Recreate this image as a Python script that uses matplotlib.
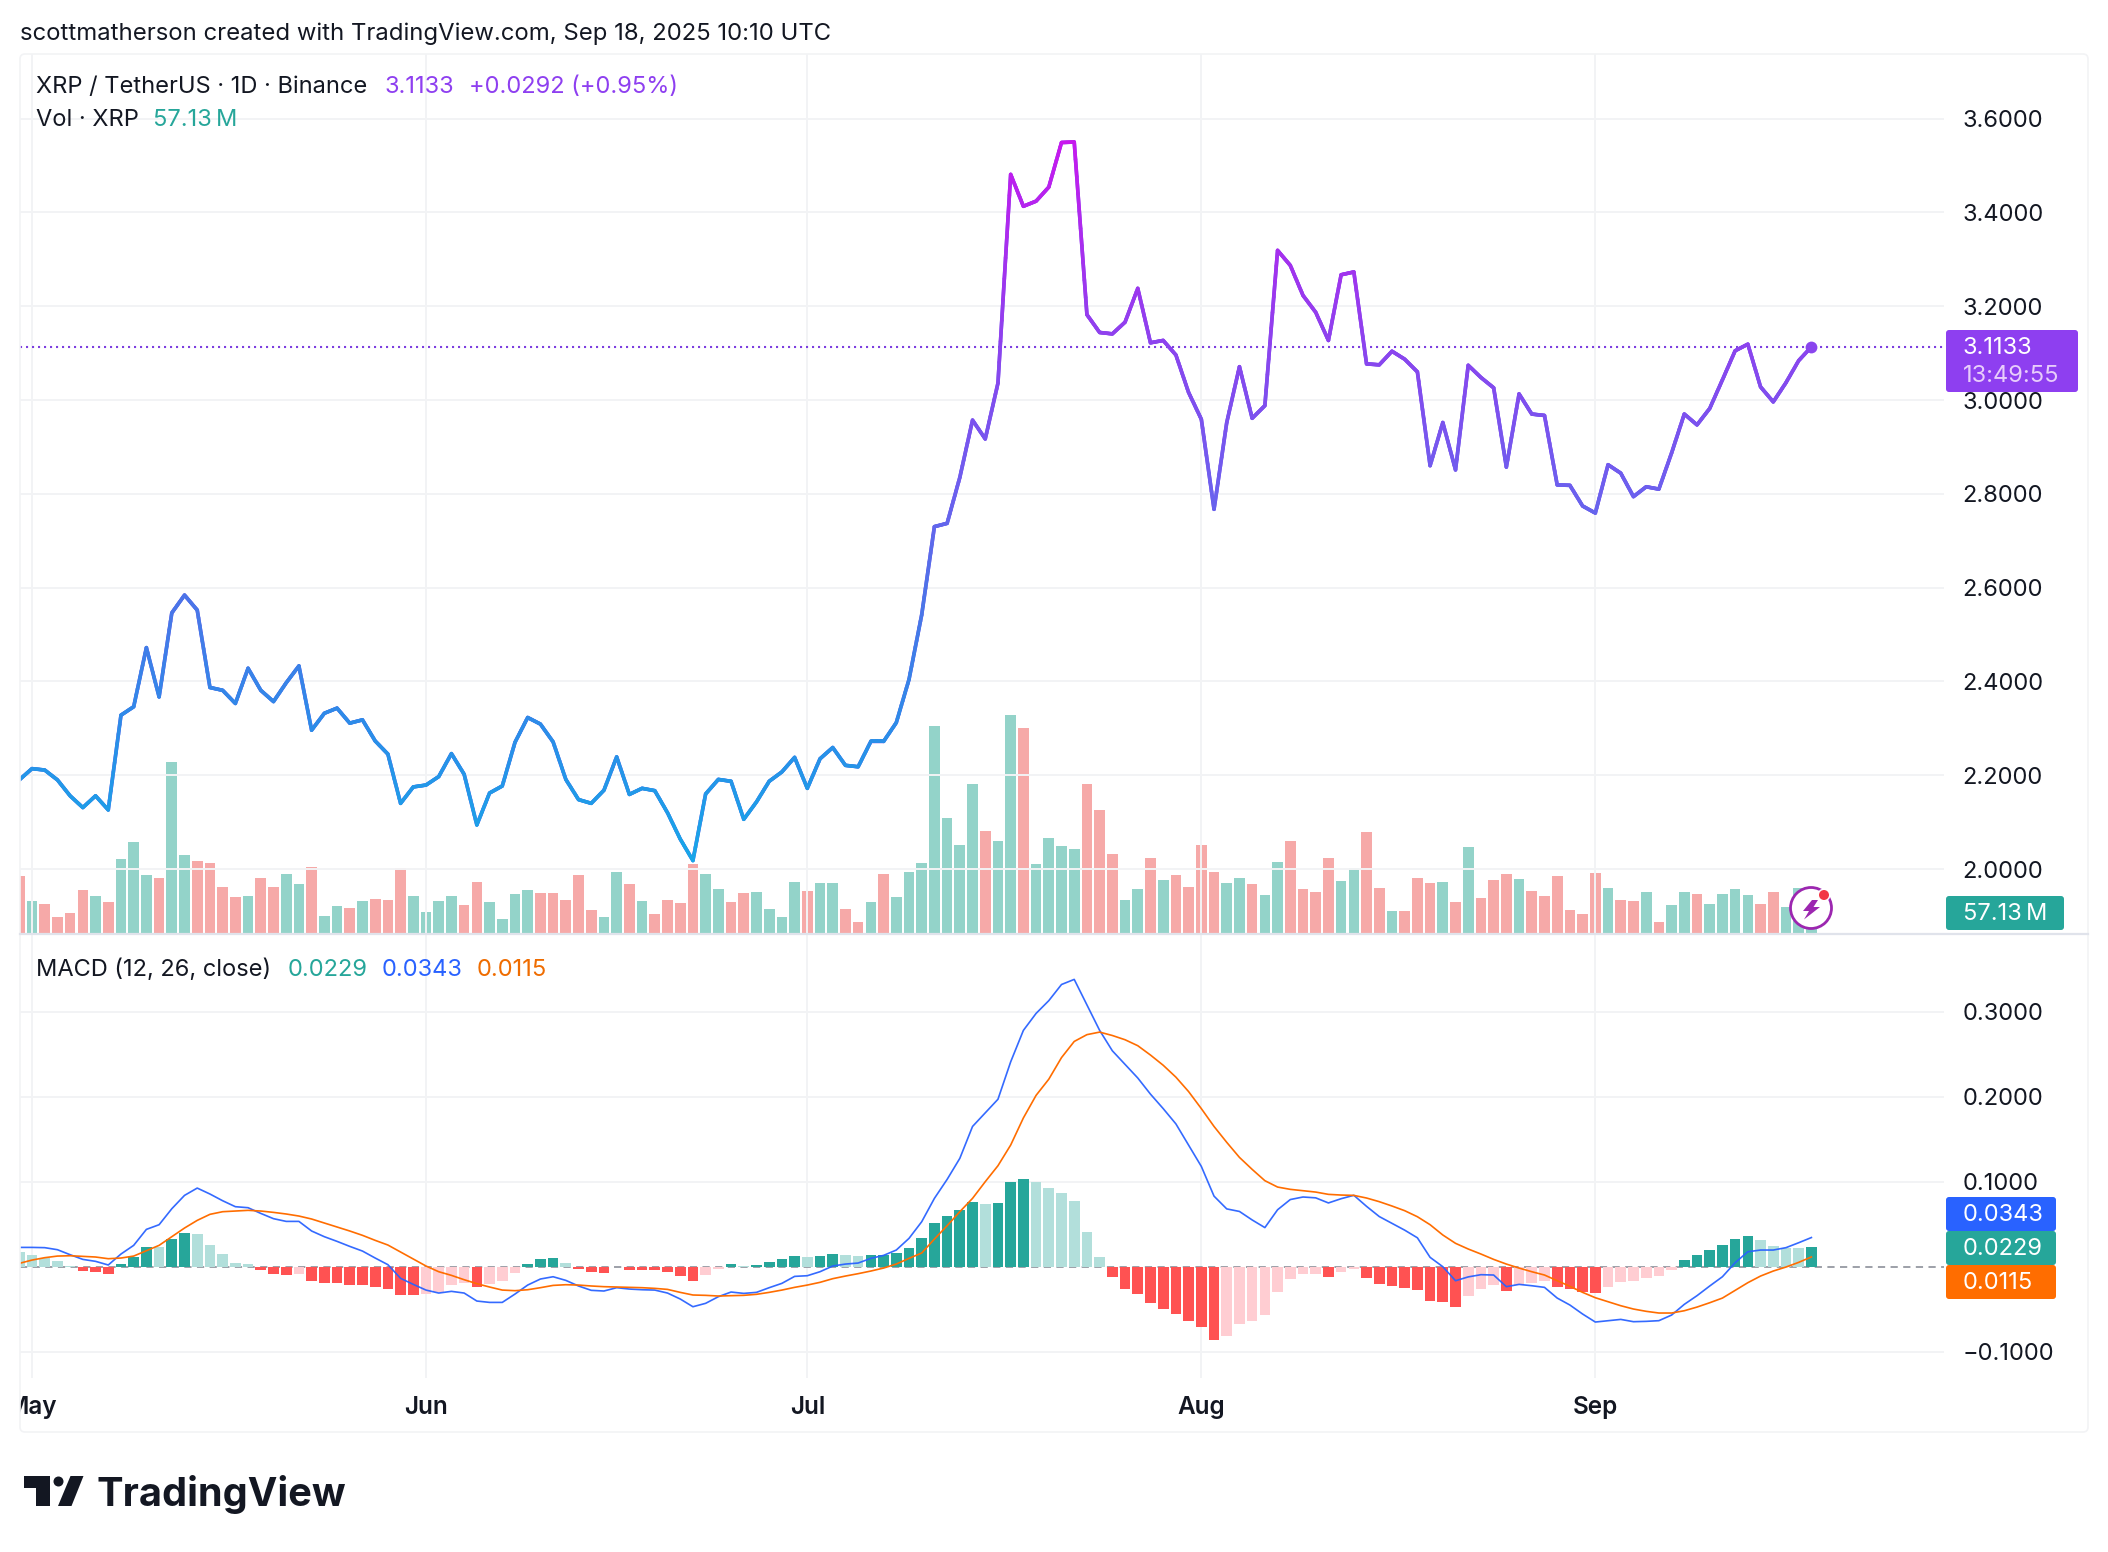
import numpy as np
import matplotlib
matplotlib.use("Agg")
import matplotlib.pyplot as plt
from matplotlib.collections import LineCollection
from matplotlib.colors import LinearSegmentedColormap
from matplotlib.patches import FancyBboxPatch, Circle, Polygon, Rectangle
from matplotlib.transforms import Bbox

plt.rcParams['font.family'] = ['Inter', 'DejaVu Sans']

# ---------- data: day 0 is 1 May 2025, the first entry is 30 April ----------
price = [2.19,2.214,2.211,2.19,2.156,2.131,2.156,2.126,2.328,2.346,2.472,2.367,2.546,2.584,2.552,2.387,2.381,2.353,2.428,2.381,
 2.357,2.397,2.433,2.296,2.332,2.343,2.311,2.318,2.273,2.245,2.14,2.175,2.179,2.197,2.246,2.202,2.094,2.162,2.177,2.27,
 2.323,2.309,2.271,2.191,2.148,2.14,2.168,2.239,2.159,2.172,2.167,2.12,2.064,2.018,
 2.16,2.191,2.187,2.106,2.143,2.187,2.207,2.238,2.172,2.235,2.259,2.221,2.218,2.272,2.272,2.312,2.404,2.542,
 2.73,2.737,2.835,2.957,2.917,3.036,3.481,3.413,3.424,3.454,3.549,3.55,3.182,3.144,3.141,3.166,3.238,3.122,3.127,3.096,
 3.016,2.959,2.767,2.952,3.071,2.961,2.988,3.319,3.287,3.223,3.187,3.127,3.267,3.273,3.077,3.075,3.104,
 3.087,3.06,2.86,2.952,2.851,3.074,3.048,3.026,2.857,3.013,2.97,2.967,2.819,2.818,2.774,2.759,2.862,2.844,2.794,2.815,
 2.81,2.887,2.97,2.947,2.982,3.043,3.105,3.119,3.028,2.996,3.037,3.084,3.1133]

volume = [223,127,115,65,81,169,146,123,289,354,227,216,662,304,281,273,181,142,146,216,181,231,192,258,69,108,100,127,135,131,
 254,146,85,127,146,112,200,123,58,154,169,158,158,131,227,92,65,239,192,127,77,131,119,269,
 231,173,123,158,162,96,65,200,166,196,196,96,46,123,231,142,239,273,801,446,343,577,396,358,843,793,269,370,339,327,
 577,477,308,131,173,293,208,227,181,343,239,196,216,192,150,277,358,173,162,293,204,254,393,177,89,
 89,216,196,200,123,335,139,208,231,212,166,146,223,92,77,235,177,131,127,162,46,112,162,154,115,154,173,150,115,162,104,177,57.13]
volume_dir = ("RGRRRRGRGGG" "RGGRRRRGRR" "GGRGGRGRRR" "GGGGRRGGGG" "RRRRRGGRGR" "RRRGGRRGGG" "GRGGRRGRGG"
              "GGGGGRGGRG" "GGGRRRGGRG" "RRRRGGRGGR" "RRRGGRRGRR" "RGRGRRRGRR" "RRRRGRRGRG" "GRGGGGRRGGG")

hist = [.0173,.0137,.0102,.0067,.0012,-.0051,-.0063,-.0086,.0031,.0114,.0231,.0235,.0325,.0396,.0384,.0255,.0149,.0043,.0031,-.0039,
 -.0086,-.0098,-.0086,-.0169,-.0192,-.0192,-.0216,-.0216,-.0239,-.0263,-.0333,-.0333,-.0322,-.0298,-.0216,-.0192,-.0239,-.0204,-.0169,-.0075,
 .0031,.009,.0102,.0043,-.0027,-.0063,-.0075,-.0004,-.0039,-.0039,-.0039,-.0063,-.011,-.0169,
 -.0098,-.0027,.0031,.0008,.002,.0055,.009,.0125,.0114,.0125,.0149,.0137,.0125,.0137,.0137,.0161,.022,.0337,.0514,.0596,.0667,.0761,.0737,.0749,
 .0996,.1031,.0996,.0925,.0867,.0773,.0408,.0114,-.0122,-.0263,-.0322,-.0427,-.0498,-.0557,-.0639,-.071,-.0863,-.0816,-.0675,-.0639,-.0569,-.0298,
 -.0145,-.0086,-.0086,-.0122,-.0063,-.0027,-.0133,-.0204,-.0227,
 -.0251,-.0275,-.0404,-.0416,-.0475,-.0345,-.0263,-.0216,-.0286,-.0216,-.0192,-.0169,-.0239,-.0263,-.0298,-.031,-.0239,-.018,-.0169,-.0133,-.011,-.0039,
 .0078,.0137,.0196,.0255,.0325,.0361,.0314,.0243,.022,.022,.0229]
hist_shade = ("LLLLLDDDDDD" "LDDLLLLLDD" "DLDDDDDDDD" "DLLLLDLLLD" "DDLDDDLDDD" "DDDLLDLDDD" "DLDDLLDDDD"
              "DDDDDLDDDL" "LLLLLDDDDD" "DDDDLLLLLL" "LLDLLDDDDD" "DDDLLLDLLL" "DDDDLLLLLL" "DDDDDDLLLLD")

macd_line = [.0227,.0227,.0224,.020,.0141,.0086,.0063,.002,.0149,.0251,.0439,.0494,.0682,.0839,.0925,.0855,.0776,.0706,.0694,.0627,
 .0565,.0533,.0533,.042,.0353,.0298,.0239,.0184,.0102,.0024,-.0137,-.0208,-.0275,-.031,-.029,-.031,-.0404,-.042,-.042,-.0322,
 -.0216,-.0145,-.0118,-.0161,-.0227,-.0278,-.0286,-.0247,-.0263,-.0271,-.0275,-.031,-.038,-.0471,
 -.0431,-.0353,-.0298,-.0314,-.0302,-.0247,-.0196,-.0114,-.0106,-.0059,.0008,.0031,.0043,.0098,.0133,.0196,.0333,.0529,.0804,.1027,.1275,
 .165,.181,.197,.241,.278,.298,.313,.332,.338,.308,.278,.254,.238,.222,.203,.186,
 .168,.143,.118,.083,.068,.065,.055,.046,.067,.079,.082,.081,.075,.08,.084,.071,.059,.051,
 .043,.034,.011,0.0,-.0165,-.012,-.0094,-.0098,-.0235,-.0208,-.0224,-.0243,-.0369,-.0451,-.0557,-.0651,-.0635,-.062,-.0647,-.0643,-.0635,-.0569,-.0443,-.0341,-.0227,-.0118,.0047,.0176,.0196,.0196,.0224,.0282,.0343]

signal_line = [.0039,.0078,.0106,.0125,.0129,.0122,.0114,.0094,.0102,.0125,.0188,.0251,.0353,.0455,.0545,.0616,.0647,.0655,.0663,.0655,
 .0639,.062,.0596,.0561,.0514,.0467,.042,.0369,.031,.0255,.0173,.009,.0008,-.0059,-.0102,-.0153,-.02,-.0239,-.0275,-.0282,
 -.0271,-.0247,-.022,-.0212,-.0216,-.0227,-.0235,-.0239,-.0243,-.0247,-.0255,-.0267,-.0302,-.0333,
 -.0337,-.0345,-.0341,-.0337,-.0325,-.0302,-.0275,-.0243,-.0216,-.0184,-.0141,-.011,-.0082,-.0051,-.0016,.0031,.0098,.0161,.0325,.0482,.0647,.0804,.1,.1188,.1431,
 .175,.2016,.2206,.246,.265,.273,.276,.272,.267,.26,.249,.237,.223,.206,.186,.165,
 .1463,.1286,.1145,.1012,.0937,.091,.0894,.0878,.0851,.0843,.0839,.0808,.0765,.0714,
 .0659,.0588,.0494,.0373,.0275,.0208,.0149,.0086,.0031,-.0016,-.0059,-.0098,-.0165,-.0231,-.0302,-.0365,-.0412,-.0459,-.0498,-.0525,-.0545,-.0545,-.0518,-.0475,-.0424,-.0369,-.0278,-.0188,-.011,-.0051,-.0004,.0051,.0115]

month_labels = ["May", "Jun", "Jul", "Aug", "Sep"]
month_days = [0, 31, 61, 92, 123]
price_ticks = [2.0, 2.2, 2.4, 2.6, 2.8, 3.0, 3.2, 3.4, 3.6]
macd_ticks = [-0.1, 0.1, 0.2, 0.3]
last_price = 3.1133

# ---------- layout ----------
W, H = 2108, 1552
fig = plt.figure(figsize=(W/100, H/100), dpi=100, facecolor="white")
L, R, T, SEP, B = 20, 1944, 54, 934, 1378
def pane(top, bot, z):
    a = fig.add_axes([L/W, 1-bot/H, (R-L)/W, (bot-top)/H], zorder=z)
    a.patch.set_visible(False)
    for s in a.spines.values():
        s.set_visible(False)
    return a

days = np.arange(-1, len(price)-1)
XL = (L-32)/12.71; XR = (R-32)/12.71
GRID = "#f2f3f5"; TXT = "#131722"; FS = 17

ax_vol = pane(T, SEP, 1)
ax_p = pane(T, SEP, 2)
ax_m = pane(SEP, B, 2)

# grid in its own layer below the marks
for a in (ax_p, ax_m):
    a.set_xlim(XL, XR)
    a.set_xticks(month_days)
    a.grid(True, color=GRID, lw=1.4)
    a.set_axisbelow(True)
    a.yaxis.tick_right()
    a.tick_params(axis="both", length=0)
    a.tick_params(axis="y", pad=13.5, labelsize=FS, labelcolor=TXT)

# volume
ax_vol.set_xlim(XL, XR)
ax_vol.set_ylim(0, (SEP-T)*3.85)
ax_vol.axis("off")
ax_vol.bar(days, volume, width=0.84, lw=0,
           color=["#93d3c9" if d == "G" else "#f6a9a8" for d in volume_dir])

# price
ax_p.set_ylim(2+(869-SEP)/469, 2+(869-T)/469)
ax_p.set_yticks(price_ticks)
ax_p.set_yticklabels([f"{v:.4f}" for v in price_ticks])
ax_p.tick_params(axis="x", labelbottom=False)
ax_p.axhline(last_price, color="#7d3fe0", lw=1.5, ls=(0, (1, 1.88)), zorder=2)
ax_p.plot(days, price, color="#7a50ee", lw=2.6, solid_joinstyle="round", zorder=3)
stops = [(0.0,"#16a8e8"),(0.19,"#2b8de8"),(0.39,"#4f72e8"),(0.52,"#6c60ee"),(0.71,"#8a45ee"),(0.84,"#a530ee"),(1.0,"#c818ee")]
cmap = LinearSegmentedColormap.from_list("p", stops)
# each stretch is cut only so the colour can change along it
segs, vals = [], []
for k in range(len(price)-1):
    xs = np.linspace(days[k], days[k+1], 11)
    ys = np.linspace(price[k], price[k+1], 11)
    for j in range(10):
        segs.append([(xs[j], ys[j]), (xs[j+1], ys[j+1])])
        vals.append((ys[j]+ys[j+1])/2)
lc = LineCollection(segs, cmap=cmap, norm=plt.Normalize(2.0, 3.55), lw=2.6, capstyle="round", zorder=4)
lc.set_array(np.array(vals))
ax_p.add_collection(lc)
ax_p.plot(days[-1], price[-1], "o", ms=8.5, mfc="#8a45ee", mec="none", zorder=5)

# MACD
ax_m.set_ylim((1266.7-B)/850, (1266.7-SEP)/850)
ax_m.set_yticks(macd_ticks)
ax_m.set_yticklabels(["\u22120.1000" if v < 0 else f"{v:.4f}" for v in macd_ticks])
colors = []
for v, s in zip(hist, hist_shade):
    if v >= 0:
        colors.append("#26a69a" if s == "D" else "#b2dfdb")
    else:
        colors.append("#ff5252" if s == "D" else "#ffcdd2")
ax_m.axhline(0, color="#9598a1", lw=1.3, ls=(0, (4, 3)), zorder=1.5)
ax_m.bar(days, hist, width=0.84, lw=0, color=colors, zorder=2)
ax_m.plot(days, macd_line, color="#2962ff", lw=1.2, alpha=.95, zorder=3)
ax_m.plot(days, signal_line, color="#ff6d00", lw=1.2, zorder=4)
ax_m.set_xticklabels(month_labels)
ax_m.tick_params(axis="x", pad=13, labelsize=17.5, labelcolor=TXT)
clip = Bbox([[L, 0], [R, H]])
for t in ax_m.get_xticklabels():
    t.set_fontweight(600)
    t.set_clip_box(clip)
    t.set_clip_on(True)

# ---------- overlay in pixel coordinates ----------
ov = fig.add_axes([0, 0, 1, 1], zorder=10)
ov.set_xlim(0, W); ov.set_ylim(H, 0); ov.axis("off"); ov.patch.set_visible(False)

ov.add_patch(FancyBboxPatch((L, T), 2088-L, 1432-T, boxstyle="round,pad=0,rounding_size=5",
                            fc="none", ec=GRID, lw=1.2))
ov.plot([L, 2088], [SEP, SEP], color="#e0e3eb", lw=1.6)

def label(x, y, s, color=TXT, size=FS, **kw):
    ov.text(x, y, s, color=color, fontsize=size, va="center", ha="left", **kw)

label(20, 33.5, "scottmatherson created with TradingView.com, Sep 18, 2025 10:10 UTC", size=17.2)
label(36, 87, "XRP / TetherUS \u00b7 1D \u00b7 Binance")
label(384, 87, "3.1133", "#8e3ff0")
label(469, 87, "+0.0292 (+0.95%)", "#8e3ff0")
label(36, 120, "Vol \u00b7 XRP")
label(153, 120, "57.13\u2009M", "#26a69a")
label(36, 970, "MACD (12, 26, close)")
label(288, 970, "0.0229", "#26a69a")
label(382, 970, "0.0343", "#2962ff")
label(477, 970, "0.0115", "#ef6c00")

def badge(x0, x1, y0, y1, color):
    ov.add_patch(FancyBboxPatch((x0, y0), x1-x0, y1-y0, boxstyle="round,pad=0,rounding_size=3",
                                fc=color, ec="none"))
badge(1946, 2078, 330, 392, "#8e3ff0")
label(1963, 347.5, "3.1133", "white")
label(1963, 376, "13:49:55", "#e8cdfb")
badge(1946, 2064, 896, 930, "#26a69a")
label(1963, 914.5, "57.13\u2009M", "white")
badge(1946, 2056, 1197, 1231, "#2962ff")
label(1963, 1215, "0.0343", "white")
badge(1946, 2056, 1231, 1265, "#26a69a")
label(1963, 1249, "0.0229", "white")
badge(1946, 2056, 1265, 1299, "#ff6d00")
label(1963, 1283, "0.0115", "white")

# stream icon
ov.add_patch(Circle((1811, 908), 20.5, fc="white", ec="#9c27b0", lw=2, zorder=5))
ov.add_patch(Polygon([(1812,900),(1803,911),(1809,911),(1804,919.5),(1820,907),(1813.5,907),(1818,900)],
                     fc="#9c27b0", ec="none", zorder=6))
ov.add_patch(Circle((1824, 895), 6.5, fc="white", ec="none", zorder=6))
ov.add_patch(Circle((1824, 895), 5, fc="#f23645", ec="none", zorder=7))

# TradingView logo
ov.add_patch(Polygon([(24,1476),(49.5,1476),(49.5,1506),(36,1506),(36,1487.5),(24,1487.5)], fc="#131722", ec="none"))
ov.add_patch(Circle((58.5, 1481.5), 5, fc="#131722", ec="none"))
ov.add_patch(Polygon([(58,1506),(71.5,1506),(83.5,1476),(70.5,1476)], fc="#131722", ec="none"))
ov.text(97, 1494.5, "TradingView", color="#131722", fontsize=28.6, fontweight=700, va="center", ha="left")

assert len(price) == len(volume) == len(hist) == len(macd_line) == len(signal_line) == len(volume_dir) == len(hist_shade)
fig.savefig("out.png", dpi=100, facecolor="white")
